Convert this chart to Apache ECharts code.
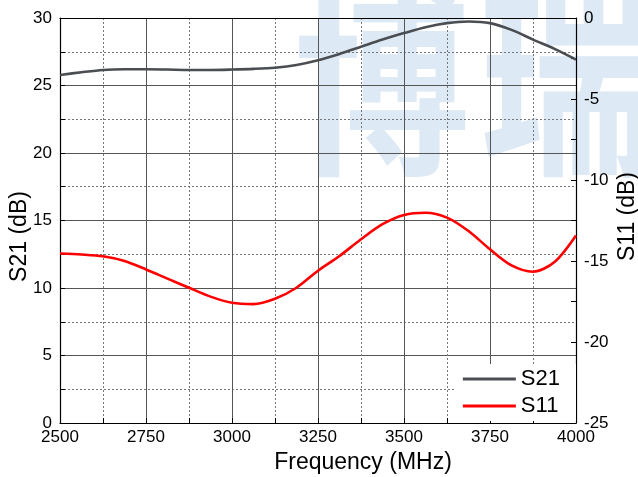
<!DOCTYPE html>
<html>
<head>
<meta charset="utf-8">
<script src="https://cdn.jsdelivr.net/npm/echarts@6/dist/echarts.min.js"></script>
<style>
  html, body { margin: 0; padding: 0; background: #fff; }
  #container { width: 638px; height: 477px; }
</style>
</head>
<body>
<div id="container"></div>
<script type="text/javascript">
    // frequency points (MHz), every 62.5 MHz
    var freq = [2500, 2562.5, 2625, 2687.5, 2750, 2812.5, 2875, 2937.5, 3000, 3062.5, 3125, 3187.5, 3250,
                3312.5, 3375, 3437.5, 3500, 3562.5, 3625, 3687.5, 3750, 3812.5, 3875, 3937.5, 4000];
    // S21 (dB), left axis
    var s21 = [25.78, 25.98, 26.15, 26.2, 26.2, 26.18, 26.15, 26.15, 26.18, 26.23, 26.32, 26.52, 26.87,
               27.34, 27.87, 28.4, 28.88, 29.32, 29.62, 29.74, 29.62, 29.12, 28.4, 27.71, 26.92];
    // S11 (dB), right axis
    var s11 = [-14.54, -14.6, -14.71, -15.0, -15.52, -16.09, -16.65, -17.2, -17.58, -17.66, -17.33, -16.65, -15.6,
               -14.69, -13.66, -12.73, -12.16, -12.02, -12.32, -13.15, -14.28, -15.27, -15.66, -15.06, -13.42];

    var xTicks = [2500, 2750, 3000, 3250, 3500, 3750, 4000];

    function pairs(xs, ys) {
        var out = [];
        for (var i = 0; i < xs.length; i++) out.push([xs[i], ys[i]]);
        return out;
    }

    var dom = document.getElementById("container");
    var myChart = echarts.init(dom);
    var font = 'Liberation Sans, Arial, sans-serif';

    var option = {
        backgroundColor: '#fff',
        animation: false,
        textStyle: { fontFamily: font },
        graphic: [
            { type: 'text', x: 294, y: -22, scaleY: 1.16, z: -10, silent: true,
              style: { text: '博', fill: '#dde9f4', font: 'bold 176px "Noto Sans CJK SC"' } },
            { type: 'text', x: 479, y: -22, scaleY: 1.16, z: -10, silent: true,
              style: { text: '瑞', fill: '#dde9f4', font: 'bold 176px "Noto Sans CJK SC"' } }
        ],
        grid: { left: 60, right: 62, top: 18, bottom: 54, outerBoundsMode: 'none', containLabel: false },
        legend: {
            orient: 'vertical',
            right: 62,
            bottom: 56,
            backgroundColor: '#fff',
            padding: [4, 16, 4, 8],
            icon: 'rect',
            itemWidth: 53,
            itemHeight: 3,
            itemGap: 5,
            textStyle: { fontSize: 22, color: '#000', fontFamily: font },
            data: ['S21', 'S11']
        },
        xAxis: [{
            type: 'value',
            min: 2500, max: 4000, interval: 250,
            name: 'Frequency (MHz)',
            nameLocation: 'middle',
            nameGap: 28,
            nameMoveOverlap: false,
            nameTextStyle: { fontSize: 23, color: '#000', padding: [0, 0, 0, 90] },
            axisLine: { lineStyle: { color: '#000', width: 1.2 } },
            axisTick: { inside: true, length: 5, lineStyle: { color: '#000' } },
            minorTick: { show: true, splitNumber: 2, length: 5, lineStyle: { color: '#000' } },
            axisLabel: { fontSize: 17, color: '#000', margin: 6,
                formatter: function (v) { return xTicks.indexOf(v) >= 0 ? String(v) : ''; } },
            splitLine: { show: true, lineStyle: { color: '#555', width: 1 } },
            minorSplitLine: { show: true, lineStyle: { color: '#777', type: [2, 2], width: 1 } }
        }, {
            type: 'value', position: 'top',
            min: 2500, max: 4000, interval: 250,
            axisLine: { show: true, lineStyle: { color: '#000', width: 1.2 } },
            axisTick: { show: false }, axisLabel: { show: false }, splitLine: { show: false }
        }],
        yAxis: [{
            type: 'value',
            min: 0, max: 30, interval: 5,
            name: 'S21 (dB)',
            nameLocation: 'middle',
            nameGap: 29,
            nameMoveOverlap: false,
            nameTextStyle: { fontSize: 23, color: '#000', padding: [0, 32, 0, 0] },
            axisLine: { show: true, lineStyle: { color: '#000', width: 1.2 } },
            axisTick: { inside: true, length: 5, lineStyle: { color: '#000' } },
            minorTick: { show: true, splitNumber: 2, length: 5, lineStyle: { color: '#000' } },
            axisLabel: { fontSize: 17, color: '#000', margin: 8 },
            splitLine: { show: true, lineStyle: { color: '#555', width: 1 } },
            minorSplitLine: { show: true, lineStyle: { color: '#777', type: [2, 2], width: 1 } }
        }, {
            type: 'value',
            min: -25, max: 0, interval: 5,
            position: 'right',
            name: 'S11 (dB)',
            nameLocation: 'middle',
            nameGap: 40,
            nameMoveOverlap: false,
            nameTextStyle: { fontSize: 23, color: '#000', padding: [0, 0, 0, 8] },
            axisLine: { show: true, lineStyle: { color: '#000', width: 1.2 } },
            axisTick: { inside: true, length: 5, lineStyle: { color: '#000' } },
            minorTick: { show: true, splitNumber: 2, length: 5, lineStyle: { color: '#000' } },
            axisLabel: { fontSize: 17, color: '#000', margin: 8 },
            splitLine: { show: false }
        }],
        series: [{
            name: 'S21',
            type: 'line',
            xAxisIndex: 0,
            yAxisIndex: 0,
            smooth: 0.3,
            symbol: 'none',
            lineStyle: { color: '#4a4d52', width: 2.6 },
            itemStyle: { color: '#4a4d52' },
            data: pairs(freq, s21)
        }, {
            name: 'S11',
            type: 'line',
            xAxisIndex: 0,
            yAxisIndex: 1,
            smooth: 0.3,
            symbol: 'none',
            lineStyle: { color: '#ff0000', width: 2.6 },
            itemStyle: { color: '#ff0000' },
            data: pairs(freq, s11)
        }]
    };

    if (option && typeof option === 'object') {
        myChart.setOption(option);
    }
</script>
</body>
</html>
